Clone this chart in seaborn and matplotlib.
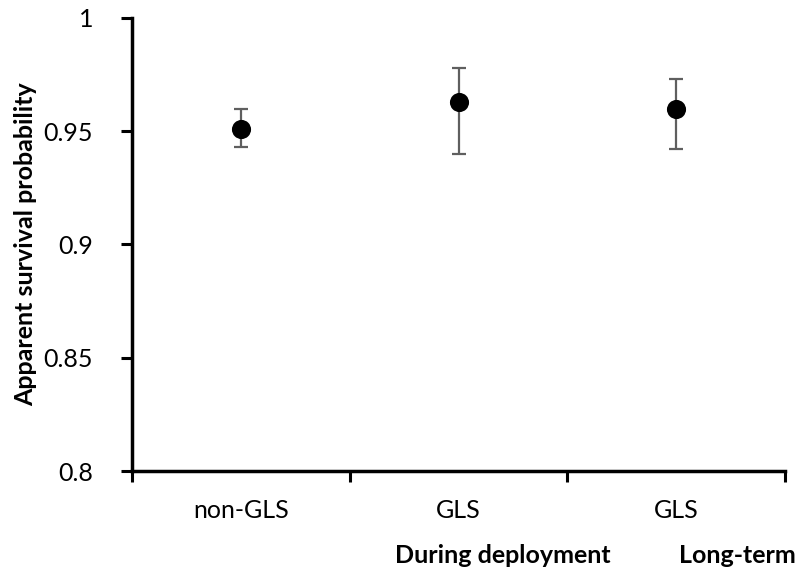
import numpy as np
import pandas as pd
import matplotlib
matplotlib.use("Agg")
import matplotlib.pyplot as plt
import seaborn as sns

# Data
groups = ["non-GLS", "GLS", "GLS"]
periods = ["", "During deployment", "Long-term"]
survival = [0.951, 0.963, 0.960]
upper_ci = [0.960, 0.978, 0.973]
lower_ci = [0.943, 0.940, 0.942]

sns.set_theme(style="white")
plt.rcParams["font.family"] = ["Lato", "DejaVu Sans"]

df = pd.DataFrame({
    "pos": np.arange(len(groups)),
    "group": groups,
    "survival": survival,
    "upper": upper_ci,
    "lower": lower_ci,
})

fig = plt.figure(figsize=(8.06, 5.79), dpi=100)
ax = fig.add_axes([0.1638, 0.1865, 0.974 - 0.1638, 0.969 - 0.1865])

# Error bars first, then points on top
yerr = np.vstack([df["survival"] - df["lower"], df["upper"] - df["survival"]])
ax.errorbar(df["pos"], df["survival"], yerr=yerr, fmt="none",
            ecolor="#5f5f5f", elinewidth=1.6, capsize=5, capthick=1.6, zorder=2)
sns.scatterplot(data=df, x="pos", y="survival", ax=ax, color="black",
                s=190, edgecolor="black", linewidth=0, zorder=3, legend=False)

ax.set_xlim(-0.5, len(groups) - 0.5)
ax.set_ylim(0.8, 1.0)
ax.set_yticks([0.8, 0.85, 0.9, 0.95, 1.0])
ax.set_yticklabels(["0.8", "0.85", "0.9", "0.95", "1"])

# Category boundaries carry the tick marks, labels sit at centres
ax.set_xticks(np.arange(-0.5, len(groups), 1.0))
ax.set_xticklabels([])
ax.set_xticks(df["pos"], minor=True)
ax.set_xticklabels(groups, minor=True)
ax.tick_params(axis="x", which="major", direction="out", length=8, width=2.2,
               color="black", bottom=True)
ax.tick_params(axis="x", which="minor", length=0, pad=20, labelsize=18,
               labelcolor="black")
ax.tick_params(axis="y", direction="out", length=8, width=2.2, color="black",
               left=True, labelsize=18, labelcolor="black", pad=20)

for side in ["top", "right"]:
    ax.spines[side].set_visible(False)
for side in ["left", "bottom"]:
    ax.spines[side].set_color("black")
    ax.spines[side].set_linewidth(2.5)

ax.set_xlabel("")
ax.set_ylabel("Apparent survival probability", fontsize=18, fontweight="bold",
              color="black", labelpad=5)

# Second row of category labels
period_x = [None, 503 / 806, 737 / 806]
for label, px in zip(periods, period_x):
    if label:
        fig.text(px, 1 - 563 / 579, label, ha="center", va="baseline",
                 fontsize=18, fontweight="bold", color="black")

fig.savefig("out.png", dpi=100)
